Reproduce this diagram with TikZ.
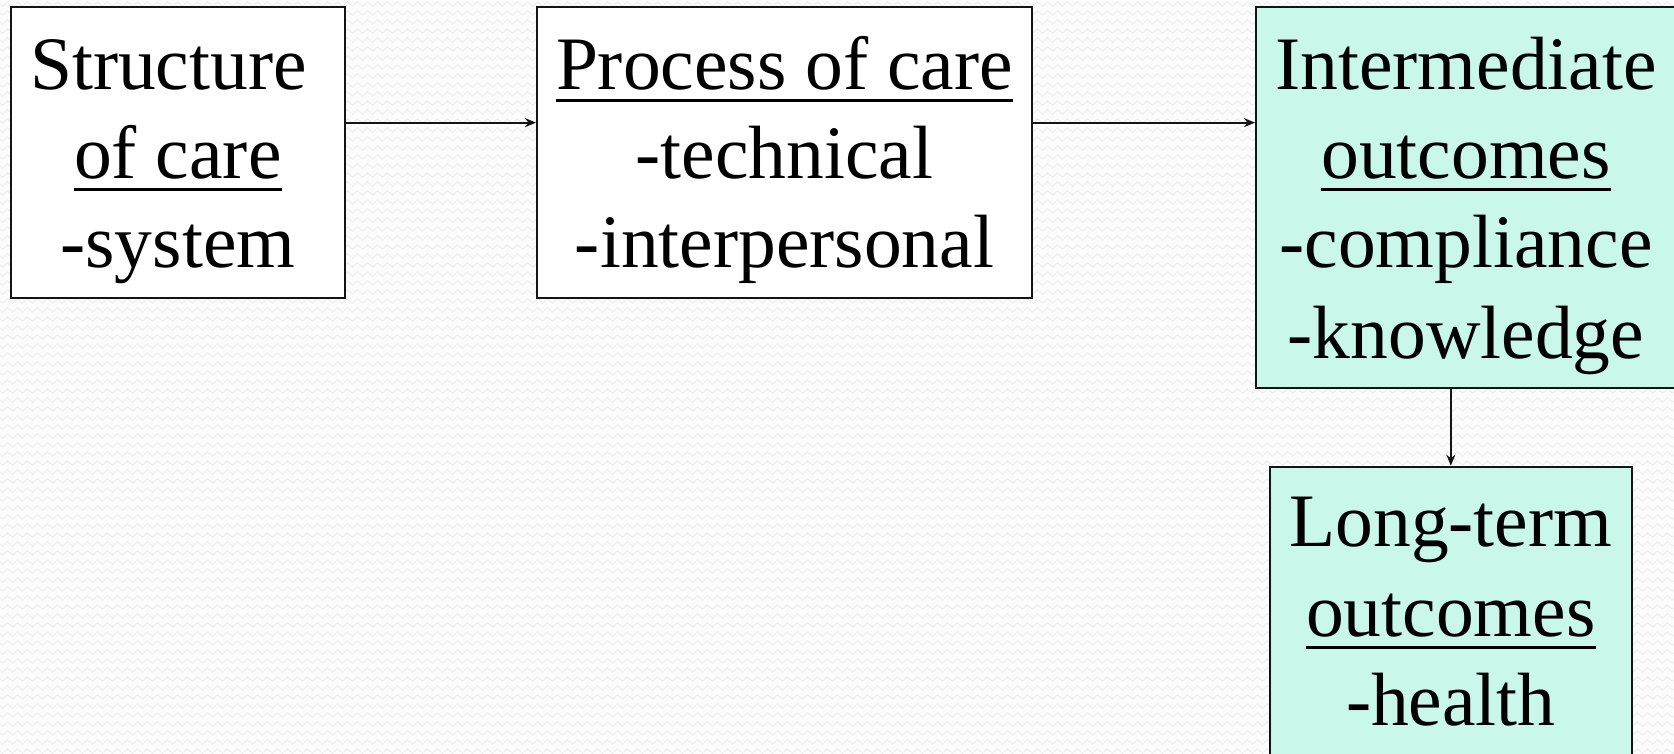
\documentclass[tikz,border=0pt]{standalone}
\usepackage{fontspec}
\setmainfont{Liberation Serif}
\usetikzlibrary{arrows.meta,decorations.pathmorphing}

\definecolor{pagebg}{HTML}{FCFCFC}
\definecolor{zig}{HTML}{F0F0F0}
\definecolor{mint}{HTML}{C9F7E9}
\definecolor{ink}{HTML}{141414}

% underline drawn as a rule a fixed distance below the baseline
\newcommand\ulword[1]{\setbox0\hbox{#1}\rlap{\rule[-12.5pt]{\wd0}{3pt}}\box0}

\tikzset{
  box/.style={draw=ink, line width=2pt, rectangle, inner sep=0pt},
  plainbox/.style={box, fill=white},
  greenbox/.style={box, fill=mint},
  txtline/.style={inner sep=0pt, anchor=base, font=\fontsize{75.5}{89}\selectfont, text=black},
  conn/.style={draw=ink, line width=2pt, -{Stealth[length=11pt,width=9pt]}},
  bgzig/.style={zig, line width=1.2pt, decorate,
    decoration={zigzag, segment length=10pt, amplitude=2.2pt}}
}

\begin{document}
\begin{tikzpicture}[x=1pt, y=-1pt]
  \useasboundingbox (0,0) rectangle (1674,754);
  \clip (0,0) rectangle (1674,754);
  % page and its faint zigzag texture
  \fill[pagebg] (0,0) rectangle (1674,754);
  \foreach \yy in {4,13,...,760}
    \draw[bgzig] (-5,\yy) -- (1680,\yy);

  % boxes
  \node[plainbox, minimum width=334.3pt, minimum height=290.7pt] (structure) at (177.85,152.65) {};
  \node[plainbox, minimum width=495pt, minimum height=290.7pt] (process) at (784.5,152.65) {};
  \node[greenbox, minimum width=420pt, minimum height=380.7pt] (intermediate) at (1466,197.65) {};
  \node[greenbox, minimum width=361.7pt, minimum height=320pt] (longterm) at (1450.85,626.7) {};

  % box texts
  \node[txtline] (s1) at (168.5,89.3) {Structure};
  \node[txtline] (s2) at (177.85,178.3) {\ulword{of care}};
  \node[txtline] (s3) at (177.85,268) {-system};

  \node[txtline] (p1) at (784.5,89.3) {\ulword{Process of care}};
  \node[txtline] (p2) at (784.5,178.3) {-technical};
  \node[txtline] (p3) at (784.5,268) {-interpersonal};

  \node[txtline] (i1) at (1466,89.3) {Intermediate};
  \node[txtline] (i2) at (1466,178.3) {\ulword{outcomes}};
  \node[txtline] (i3) at (1466,268) {-compliance};
  \node[txtline] (i4) at (1466,358) {-knowledge};

  \node[txtline] (l1) at (1450.85,546.7) {Long-term};
  \node[txtline] (l2) at (1450.85,636.7) {\ulword{outcomes}};
  \node[txtline] (l3) at (1450.85,725) {-health};

  % connectors
  \draw[conn] ([yshift=30pt]structure.east) -- ([yshift=30pt]process.west);
  \draw[conn] ([yshift=30pt]process.east) -- ([yshift=30pt]process.east -| intermediate.west);
  \draw[conn] (longterm.north |- intermediate.south) -- (longterm.north);
\end{tikzpicture}
\end{document}
